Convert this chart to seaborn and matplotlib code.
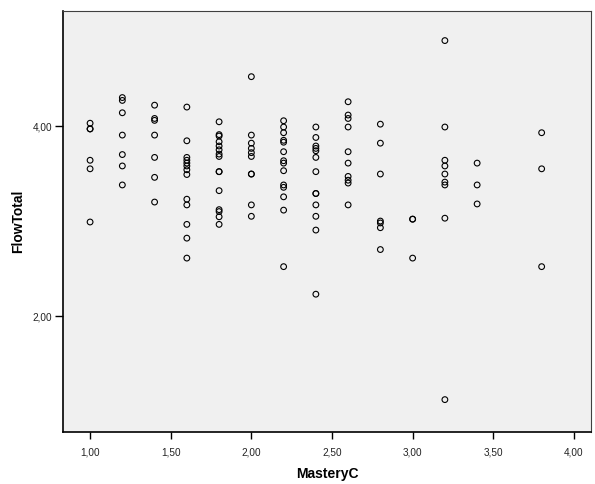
import matplotlib
matplotlib.use("Agg")
import matplotlib.pyplot as plt
import pandas as pd
import seaborn as sns

# values (MasteryC groups and FlowTotal scores)
mastery_c = (
    [1.0] * 6 + [1.2] * 7 + [1.4] * 7 + [1.6] * 13 + [1.8] * 15 + [2.0] * 10
    + [2.2] * 14 + [2.4] * 13 + [2.6] * 10 + [2.8] * 7 + [3.0] * 3
    + [3.2] * 9 + [3.4] * 3 + [3.8] * 3
)
flow_total = [
    4.03, 3.97, 3.97, 3.64, 3.55, 2.99,
    4.30, 4.27, 4.14, 3.905, 3.70, 3.58, 3.38,
    4.22, 4.08, 4.06, 3.905, 3.67, 3.46, 3.20,
    4.20, 3.845, 3.67, 3.64, 3.61, 3.58, 3.54, 3.49, 3.23, 3.17, 2.965, 2.82, 2.61,
    4.045, 3.91, 3.895, 3.835, 3.79, 3.75, 3.705, 3.68, 3.52, 3.52, 3.32, 3.12, 3.10, 3.045, 2.965,
    4.52, 3.905, 3.82, 3.765, 3.72, 3.68, 3.495, 3.495, 3.17, 3.05,
    4.056, 3.99, 3.93, 3.85, 3.83, 3.73, 3.635, 3.61, 3.53, 3.38, 3.355, 3.255, 3.115, 2.52,
    3.99, 3.88, 3.79, 3.765, 3.74, 3.67, 3.52, 3.29, 3.29, 3.17, 3.05, 2.905, 2.23,
    4.256, 4.116, 4.08, 3.99, 3.73, 3.61, 3.47, 3.43, 3.40, 3.17,
    4.02, 3.82, 3.495, 3.00, 2.98, 2.93, 2.70,
    3.02, 3.02, 2.61,
    4.90, 3.99, 3.64, 3.58, 3.495, 3.41, 3.38, 3.03, 1.12,
    3.61, 3.38, 3.18,
    3.93, 3.55, 2.52,
]
x_ticks = [1.0, 1.5, 2.0, 2.5, 3.0, 3.5, 4.0]
y_ticks = [2.0, 4.0]

df = pd.DataFrame({"MasteryC": mastery_c, "FlowTotal": flow_total})

sns.set_style("white")
plt.rcParams["font.family"] = ["Liberation Sans", "DejaVu Sans"]

fig = plt.figure(figsize=(5.95, 4.84), dpi=100)
ax = fig.add_axes([0.106, 0.108, 0.887, 0.869])
ax.set_facecolor("#f0f0f0")

sns.scatterplot(data=df, x="MasteryC", y="FlowTotal", ax=ax,
                marker="o", s=17, facecolors="none", edgecolor="black",
                linewidth=0.8)

ax.set_xlim(0.8325, 4.105)
ax.set_ylim(0.782, 5.21)
ax.set_xticks(x_ticks)
ax.set_yticks(y_ticks)
ax.set_xticklabels([f"{t:.2f}".replace(".", ",") for t in x_ticks])
ax.set_yticklabels([f"{t:.2f}".replace(".", ",") for t in y_ticks])
ax.tick_params(axis="x", bottom=True, direction="out", length=5, width=1,
               labelsize=7.2, color="black", labelcolor="#222222", pad=6)
ax.tick_params(axis="y", left=True, direction="out", length=6, width=1,
               labelsize=7.2, color="black", labelcolor="#222222", pad=2)

for side in ["left", "bottom"]:
    ax.spines[side].set_color("black")
    ax.spines[side].set_linewidth(1.2)
for side in ["top", "right"]:
    ax.spines[side].set_color("#404040")
    ax.spines[side].set_linewidth(0.8)

ax.set_xlabel("MasteryC", fontsize=10, fontweight="bold", labelpad=7, color="black")
ax.set_ylabel("FlowTotal", fontsize=10, fontweight="bold", labelpad=5, color="black")

fig.savefig("out.png", dpi=100)
